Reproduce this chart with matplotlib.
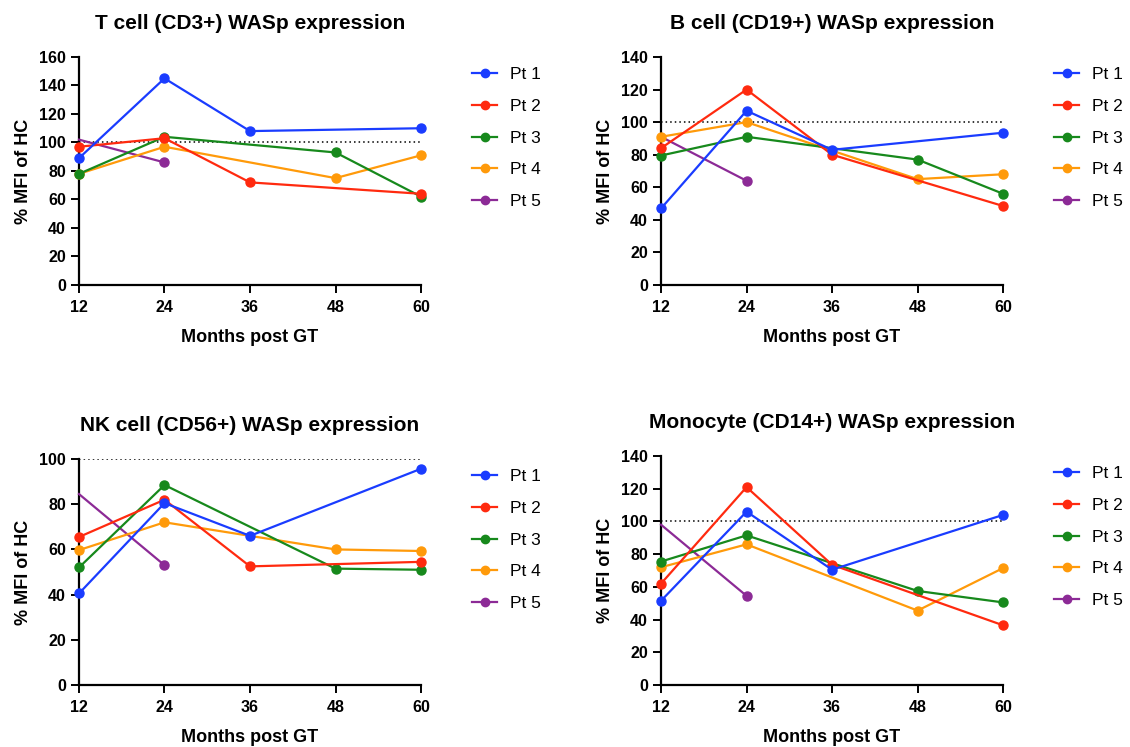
import matplotlib
matplotlib.use("Agg")
import numpy as np
import matplotlib.pyplot as plt
from matplotlib.lines import Line2D

plt.rcParams['font.family'] = ['Liberation Sans', 'DejaVu Sans']

# months post gene therapy
months = [12, 24, 36, 48, 60]
patients = ["Pt 1", "Pt 2", "Pt 3", "Pt 4", "Pt 5"]
colors = ["#1a3cff", "#ff2a0f", "#17891c", "#ff9a0a", "#8c2a96"]

nan = np.nan
# % MFI of healthy controls, one row per patient (nan = not measured)
tcell = [
    [89, 145, 108, nan, 110],
    [97, 103, 72, nan, 64],
    [78, 104, nan, 93, 62],
    [78, 97, nan, 75, 91],
    [102, 86, nan, nan, nan],
]
bcell = [
    [47, 107, 83, nan, 93.5],
    [84, 120, 80, nan, 48.5],
    [79.5, 91, nan, 77, 56],
    [91, 100, nan, 65, 68],
    [91, 64, nan, nan, nan],
]
nkcell = [
    [40.5, 80.5, 66, nan, 95.7],
    [65.5, 82, 52.5, nan, 54.5],
    [52, 88.5, nan, 51.5, 51],
    [59.7, 72, nan, 60, 59.3],
    [84.5, 53, nan, nan, nan],
]
mono = [
    [51.5, 106, 70.5, nan, 104],
    [62, 121, 73.5, nan, 36.5],
    [75.5, 91.5, nan, 57.5, 50.5],
    [72, 86, nan, 45.5, 71.5],
    [98, 54.5, nan, nan, nan],
]

panels = [
    ("T cell (CD3+) WASp expression", tcell, 160, [0.0699, 0.6185, 0.3027, 0.3052]),
    ("B cell (CD19+) WASp expression", bcell, 140, [0.585, 0.6185, 0.3027, 0.3052]),
    ("NK cell (CD56+) WASp expression", nkcell, 100, [0.0699, 0.083, 0.3027, 0.3025]),
    ("Monocyte (CD14+) WASp expression", mono, 140, [0.585, 0.083, 0.3027, 0.3065]),
]

fig = plt.figure(figsize=(11.3, 7.47), dpi=100)

for title, data, ymax, rect in panels:
    ax = fig.add_axes(rect)
    ax.axhline(100, color="black", lw=1.1, ls=(0, (1, 2)), zorder=1)
    for i in range(len(patients) - 1, -1, -1):
        vals = np.array(data[i], dtype=float)
        ok = ~np.isnan(vals)
        x = np.array(months)[ok]
        y = vals[ok]
        # Pt 5 has no symbol at the 12 month point in the original
        mk = [1] if i == 4 else None
        ax.plot(x, y, color=colors[i], lw=1.6, marker="o", ms=6.5,
                markevery=mk, label=patients[i], zorder=2 + (5 - i), clip_on=False)
    ax.set_xlim(12, 60)
    ax.set_ylim(0, ymax)
    ax.set_xticks(months)
    ax.set_yticks(np.arange(0, ymax + 1, 20))
    for s in ["top", "right"]:
        ax.spines[s].set_visible(False)
    for s in ["left", "bottom"]:
        ax.spines[s].set_linewidth(1.6)
    ax.tick_params(direction="out", length=6, width=1.4, labelsize=11.5, pad=3.5)
    ax.tick_params(axis="x", pad=5)
    for lab in ax.get_xticklabels() + ax.get_yticklabels():
        lab.set_fontweight("bold")
    ax.set_xlabel("Months post GT", fontsize=13, fontweight="bold", labelpad=10)
    ax.set_ylabel("% MFI of HC", fontsize=13, fontweight="bold", labelpad=5)
    ax.set_title(title, fontsize=15, fontweight="bold", pad=20)

    handles = [Line2D([], [], color=c, lw=1.6, marker="o", ms=6) for c in colors]
    ax.legend(handles, patients, loc="upper left", bbox_to_anchor=(1.149, 0.955),
              frameon=False, fontsize=12.5, labelspacing=0.95,
              handlelength=1.45, handletextpad=0.75, borderaxespad=0, borderpad=0)

fig.savefig("out.png", dpi=100)
